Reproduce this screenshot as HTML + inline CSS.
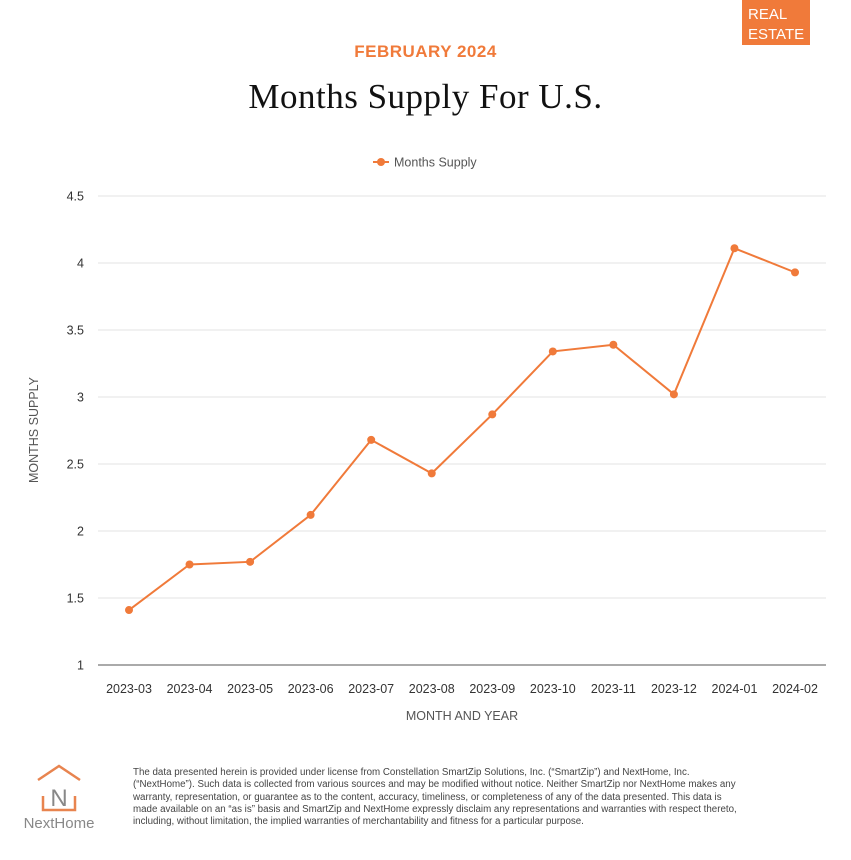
<!DOCTYPE html>
<html><head><meta charset="utf-8"><style>
body{margin:0;width:851px;height:860px;background:#fff;position:relative;font-family:"Liberation Sans",sans-serif;overflow:hidden}
.abs{position:absolute}
</style></head><body>
<div class="abs" style="left:742px;top:0;width:68px;height:45px;background:#f07a3a;color:#fff;font-size:15px;line-height:20px;padding:5px 0 0 6px;box-sizing:border-box">REAL<br>ESTATE</div>
<div class="abs" style="left:0;width:851px;top:42px;text-align:center;color:#f07a3a;font-weight:bold;font-size:17px;letter-spacing:0.5px">FEBRUARY 2024</div>
<div class="abs" style="left:0;width:851px;top:77px;text-align:center;font-family:'Liberation Serif',serif;font-size:35px;color:#111;letter-spacing:0.5px">Months Supply For U.S.</div>
<svg class="abs" style="left:0;top:0" width="851" height="750" id="chart">
<g><line x1="373" y1="162" x2="389" y2="162" stroke="#f07a3a" stroke-width="2"/><circle cx="381" cy="162" r="4" fill="#f07a3a"/><text x="394" y="166.5" font-size="12.5" fill="#555">Months Supply</text></g>
<text transform="translate(38,430) rotate(-90)" text-anchor="middle" font-size="12.5" fill="#555">MONTHS SUPPLY</text>
<text x="462" y="720" text-anchor="middle" font-size="12.5" fill="#555">MONTH AND YEAR</text>
</svg>
<script>
const categories=["2023-03","2023-04","2023-05","2023-06","2023-07","2023-08","2023-09","2023-10","2023-11","2023-12","2024-01","2024-02"];
const values=[1.41,1.75,1.77,2.12,2.68,2.43,2.87,3.34,3.39,3.02,4.11,3.93];
const yTicks=[1,1.5,2,2.5,3,3.5,4,4.5];
const yTickLabels=["1","1.5","2","2.5","3","3.5","4","4.5"];
const svg=document.getElementById('chart');const NS='http://www.w3.org/2000/svg';
const x=i=>129+i*(795-129)/(categories.length-1);
const y=v=>665-(v-1)*(665-196)/3.5;
function mk(t,a){const e=document.createElementNS(NS,t);for(const k in a)e.setAttribute(k,a[k]);svg.appendChild(e);return e;}
yTicks.forEach((t,i)=>{
 const g=mk('line',{x1:98,x2:826,y1:y(t),y2:y(t),stroke:i==0?'#555':'#e3e3e3','stroke-width':1});
 
 
 const l=mk('text',{x:84,y:y(t)+4.5,'text-anchor':'end','font-size':12.5,fill:'#333'});l.textContent=yTickLabels[i];
 
 
});
categories.forEach((c,i)=>{
 const l=mk('text',{x:x(i),y:693,'text-anchor':'middle','font-size':12.5,fill:'#333'});l.textContent=c;
 
 
});
const p=mk('polyline',{points:values.map((v,i)=>x(i)+','+y(v)).join(' '),fill:'none',stroke:'#f07a3a','stroke-width':2});


values.forEach((v,i)=>{
 const c=mk('circle',{cx:x(i),cy:y(v),r:4,fill:'#f07a3a'});
 
 
});
</script>
<svg class="abs" style="left:20px;top:762px" width="80" height="70">
<polyline points="18,18 39,4 60,18" fill="none" stroke="#e8844f" stroke-width="2.5"/>
<polyline points="23,34 23,48 55,48 55,34" fill="none" stroke="#e8844f" stroke-width="2.5"/>
<text x="39" y="44" text-anchor="middle" font-size="24" fill="#888">N</text>
<text x="39" y="66" text-anchor="middle" font-size="15" fill="#888">NextHome</text>
</svg>
<div class="abs" style="left:133px;top:767px;width:700px;white-space:nowrap;font-size:9.75px;line-height:12.3px;color:#444">The data presented herein is provided under license from Constellation SmartZip Solutions, Inc. (“SmartZip”) and NextHome, Inc.<br>(“NextHome”). Such data is collected from various sources and may be modified without notice. Neither SmartZip nor NextHome makes any<br>warranty, representation, or guarantee as to the content, accuracy, timeliness, or completeness of any of the data presented. This data is<br>made available on an “as is” basis and SmartZip and NextHome expressly disclaim any representations and warranties with respect thereto,<br>including, without limitation, the implied warranties of merchantability and fitness for a particular purpose.</div>
</body></html>
